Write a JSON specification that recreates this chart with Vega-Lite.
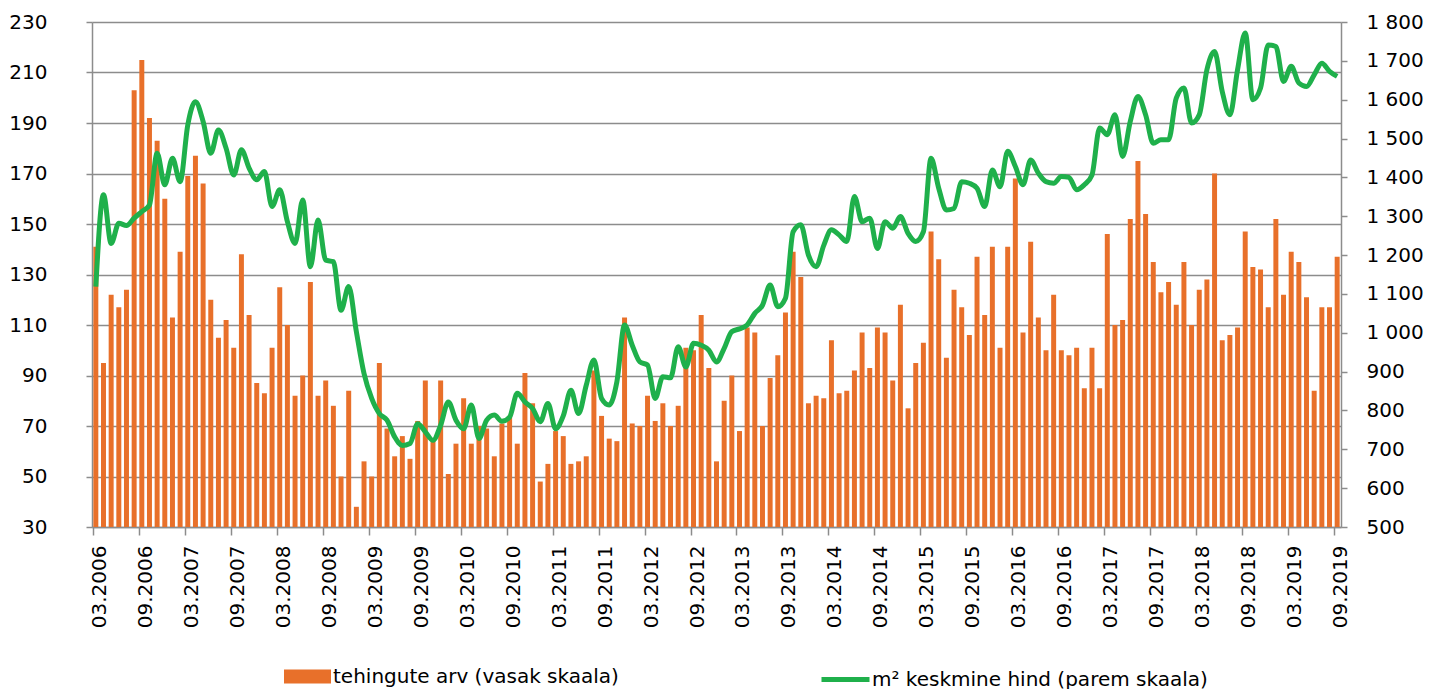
{
  "$schema": "https://vega.github.io/schema/vega-lite/v6.json",
  "autosize": {"type": "none"},
  "width": 1249,
  "height": 505,
  "padding": {"left": 92, "top": 22, "right": 101, "bottom": 162},
  "background": "white",
  "config": {
    "view": {"stroke": null},
    "font": "DejaVu Sans",
    "axis": {"labelFont": "DejaVu Sans", "labelFontSize": 20, "labelColor": "#000000", "domainColor": "#8c8c8c", "domainWidth": 1.5, "tickColor": "#8c8c8c", "tickWidth": 1.5, "gridColor": "#8c8c8c", "gridWidth": 1.5, "title": null},
    "legend": {"labelFont": "DejaVu Sans", "labelFontSize": 20, "labelColor": "#000000", "labelLimit": 0}
  },
  "data": {"values": [
    {"m":"2006-03","n":141,"p":1119},{"m":"2006-04","n":95,"p":1355},{"m":"2006-05","n":122,"p":1230},{"m":"2006-06","n":117,"p":1282},{"m":"2006-07","n":124,"p":1276},{"m":"2006-08","n":203,"p":1295},{"m":"2006-09","n":215,"p":1312},{"m":"2006-10","n":192,"p":1329},{"m":"2006-11","n":183,"p":1462},{"m":"2006-12","n":160,"p":1381},
    {"m":"2007-01","n":113,"p":1449},{"m":"2007-02","n":139,"p":1389},{"m":"2007-03","n":169,"p":1535},{"m":"2007-04","n":177,"p":1595},{"m":"2007-05","n":166,"p":1544},{"m":"2007-06","n":120,"p":1462},{"m":"2007-07","n":105,"p":1522},{"m":"2007-08","n":112,"p":1475},{"m":"2007-09","n":101,"p":1406},{"m":"2007-10","n":138,"p":1471},{"m":"2007-11","n":114,"p":1424},{"m":"2007-12","n":87,"p":1394},
    {"m":"2008-01","n":83,"p":1415},{"m":"2008-02","n":101,"p":1325},{"m":"2008-03","n":125,"p":1368},{"m":"2008-04","n":110,"p":1286},{"m":"2008-05","n":82,"p":1230},{"m":"2008-06","n":90,"p":1342},{"m":"2008-07","n":127,"p":1170},{"m":"2008-08","n":82,"p":1290},{"m":"2008-09","n":88,"p":1187},{"m":"2008-10","n":78,"p":1183},{"m":"2008-11","n":50,"p":1058},{"m":"2008-12","n":84,"p":1119},
    {"m":"2009-01","n":38,"p":1003},{"m":"2009-02","n":56,"p":895},{"m":"2009-03","n":50,"p":831},{"m":"2009-04","n":95,"p":792},{"m":"2009-05","n":69,"p":775},{"m":"2009-06","n":58,"p":732},{"m":"2009-07","n":66,"p":710},{"m":"2009-08","n":57,"p":715},{"m":"2009-09","n":72,"p":766},{"m":"2009-10","n":88,"p":745},{"m":"2009-11","n":65,"p":723},{"m":"2009-12","n":88,"p":762},
    {"m":"2010-01","n":51,"p":822},{"m":"2010-02","n":63,"p":775},{"m":"2010-03","n":81,"p":753},{"m":"2010-04","n":63,"p":814},{"m":"2010-05","n":70,"p":728},{"m":"2010-06","n":69,"p":775},{"m":"2010-07","n":58,"p":788},{"m":"2010-08","n":71,"p":772},{"m":"2010-09","n":74,"p":783},{"m":"2010-10","n":63,"p":844},{"m":"2010-11","n":91,"p":822},{"m":"2010-12","n":79,"p":805},
    {"m":"2011-01","n":48,"p":771},{"m":"2011-02","n":55,"p":818},{"m":"2011-03","n":68,"p":753},{"m":"2011-04","n":66,"p":786},{"m":"2011-05","n":55,"p":852},{"m":"2011-06","n":56,"p":792},{"m":"2011-07","n":58,"p":865},{"m":"2011-08","n":92,"p":930},{"m":"2011-09","n":74,"p":831},{"m":"2011-10","n":65,"p":814},{"m":"2011-11","n":64,"p":874},{"m":"2011-12","n":113,"p":1020},
    {"m":"2012-01","n":71,"p":968},{"m":"2012-02","n":70,"p":925},{"m":"2012-03","n":82,"p":917},{"m":"2012-04","n":72,"p":831},{"m":"2012-05","n":79,"p":887},{"m":"2012-06","n":70,"p":884},{"m":"2012-07","n":78,"p":964},{"m":"2012-08","n":101,"p":912},{"m":"2012-09","n":100,"p":973},{"m":"2012-10","n":114,"p":968},{"m":"2012-11","n":93,"p":955},{"m":"2012-12","n":56,"p":925},
    {"m":"2013-01","n":80,"p":960},{"m":"2013-02","n":90,"p":1003},{"m":"2013-03","n":68,"p":1010},{"m":"2013-04","n":109,"p":1020},{"m":"2013-05","n":107,"p":1050},{"m":"2013-06","n":70,"p":1071},{"m":"2013-07","n":89,"p":1123},{"m":"2013-08","n":98,"p":1067},{"m":"2013-09","n":115,"p":1089},{"m":"2013-10","n":139,"p":1260},{"m":"2013-11","n":129,"p":1278},{"m":"2013-12","n":79,"p":1200},
    {"m":"2014-01","n":82,"p":1170},{"m":"2014-02","n":81,"p":1225},{"m":"2014-03","n":104,"p":1265},{"m":"2014-04","n":83,"p":1252},{"m":"2014-05","n":84,"p":1235},{"m":"2014-06","n":92,"p":1351},{"m":"2014-07","n":107,"p":1286},{"m":"2014-08","n":93,"p":1295},{"m":"2014-09","n":109,"p":1217},{"m":"2014-10","n":107,"p":1286},{"m":"2014-11","n":88,"p":1269},{"m":"2014-12","n":118,"p":1299},
    {"m":"2015-01","n":77,"p":1256},{"m":"2015-02","n":95,"p":1235},{"m":"2015-03","n":103,"p":1260},{"m":"2015-04","n":147,"p":1449},{"m":"2015-05","n":136,"p":1372},{"m":"2015-06","n":97,"p":1316},{"m":"2015-07","n":124,"p":1320},{"m":"2015-08","n":117,"p":1389},{"m":"2015-09","n":106,"p":1385},{"m":"2015-10","n":137,"p":1372},{"m":"2015-11","n":114,"p":1325},{"m":"2015-12","n":141,"p":1419},
    {"m":"2016-01","n":101,"p":1376},{"m":"2016-02","n":141,"p":1467},{"m":"2016-03","n":168,"p":1428},{"m":"2016-04","n":107,"p":1381},{"m":"2016-05","n":143,"p":1445},{"m":"2016-06","n":113,"p":1411},{"m":"2016-07","n":100,"p":1389},{"m":"2016-08","n":122,"p":1385},{"m":"2016-09","n":100,"p":1402},{"m":"2016-10","n":98,"p":1400},{"m":"2016-11","n":101,"p":1368},{"m":"2016-12","n":85,"p":1381},
    {"m":"2017-01","n":101,"p":1406},{"m":"2017-02","n":85,"p":1527},{"m":"2017-03","n":146,"p":1510},{"m":"2017-04","n":110,"p":1561},{"m":"2017-05","n":112,"p":1454},{"m":"2017-06","n":152,"p":1544},{"m":"2017-07","n":175,"p":1608},{"m":"2017-08","n":154,"p":1561},{"m":"2017-09","n":135,"p":1488},{"m":"2017-10","n":123,"p":1497},{"m":"2017-11","n":127,"p":1497},{"m":"2017-12","n":118,"p":1604},
    {"m":"2018-01","n":135,"p":1630},{"m":"2018-02","n":110,"p":1540},{"m":"2018-03","n":124,"p":1561},{"m":"2018-04","n":128,"p":1677},{"m":"2018-05","n":170,"p":1724},{"m":"2018-06","n":104,"p":1621},{"m":"2018-07","n":106,"p":1561},{"m":"2018-08","n":109,"p":1677},{"m":"2018-09","n":147,"p":1772},{"m":"2018-10","n":133,"p":1600},{"m":"2018-11","n":132,"p":1630},{"m":"2018-12","n":117,"p":1741},
    {"m":"2019-01","n":152,"p":1737},{"m":"2019-02","n":122,"p":1647},{"m":"2019-03","n":139,"p":1686},{"m":"2019-04","n":135,"p":1643},{"m":"2019-05","n":121,"p":1634},{"m":"2019-06","n":84,"p":1664},{"m":"2019-07","n":117,"p":1694},{"m":"2019-08","n":117,"p":1673},{"m":"2019-09","n":137,"p":1660}
  ]},
  "encoding": {
    "x": {
      "field": "m", "type": "ordinal",
      "scale": {"type": "band", "paddingInner": 0.35, "paddingOuter": 0.175},
      "axis": {
        "values": ["2006-03","2006-09","2007-03","2007-09","2008-03","2008-09","2009-03","2009-09","2010-03","2010-09","2011-03","2011-09","2012-03","2012-09","2013-03","2013-09","2014-03","2014-09","2015-03","2015-09","2016-03","2016-09","2017-03","2017-09","2018-03","2018-09","2019-03","2019-09"],
        "labelExpr": "substring(datum.value, 5, 7) + '.' + substring(datum.value, 0, 4)",
        "labelAngle": -90, "labelAlign": "right", "labelBaseline": "middle",
        "bandPosition": 0, "labelOffset": 4, "tickSize": 8, "labelPadding": 10, "grid": false, "labelOverlap": false
      }
    }
  },
  "layer": [
    {
      "mark": {"type": "bar", "clip": true},
      "encoding": {
        "y": {"field": "n", "type": "quantitative", "scale": {"domain": [30, 230], "nice": false, "zero": false},
              "axis": {"orient": "left", "values": [30,50,70,90,110,130,150,170,190,210,230], "grid": true, "tickSize": 6, "labelPadding": 39}},
        "y2": {"datum": 30},
        "color": {"datum": "tehingute arv (vasak skaala)", "scale": {"range": ["#E8702A"]},
                  "legend": {"orient": "none", "legendX": 192, "legendY": 631, "title": null, "symbolType": "M-1,-0.3H1V0.3H-1Z", "symbolSize": 2209, "symbolStrokeWidth": 0, "labelOffset": 2}}
      }
    },
    {
      "mark": {"type": "line", "strokeWidth": 5, "interpolate": "monotone", "color": "#1FB04B"},
      "encoding": {
        "y": {"field": "p", "type": "quantitative", "scale": {"domain": [500, 1800], "nice": false, "zero": false},
              "axis": {"orient": "right", "values": [500,600,700,800,900,1000,1100,1200,1300,1400,1500,1600,1700,1800], "grid": false, "tickSize": 6, "labelPadding": 19, "labelAlign": "left",
                       "labelExpr": "replace(format(datum.value, ','), ',', ' ')"}},
        "stroke": {"datum": "m² keskmine hind (parem skaala)", "scale": {"range": ["#1FB04B"]},
                   "legend": {"orient": "none", "legendX": 727, "legendY": 631, "title": null, "symbolType": "stroke", "symbolSize": 2304, "symbolStrokeWidth": 5, "symbolStrokeColor": "#1FB04B", "labelOffset": 0}}
      }
    }
  ],
  "resolve": {"scale": {"y": "independent"}}
}
